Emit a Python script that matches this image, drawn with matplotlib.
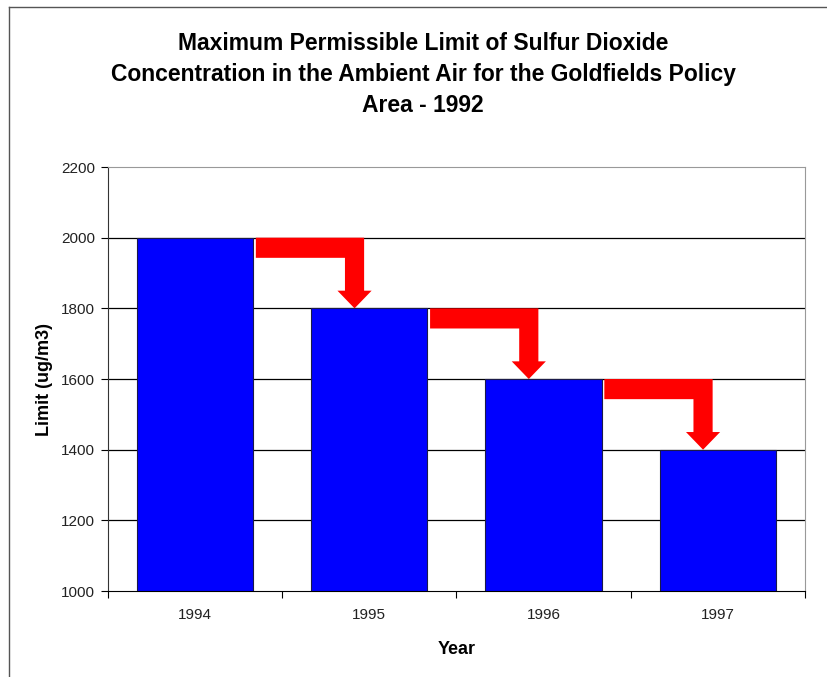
import matplotlib.pyplot as plt
from matplotlib.patches import Polygon
from matplotlib.lines import Line2D
import numpy as np

plt.rcParams["font.family"] = ["Liberation Sans", "DejaVu Sans"]

years = ["1994", "1995", "1996", "1997"]
limits = [2000, 1800, 1600, 1400]
y_ticks = [1000, 1200, 1400, 1600, 1800, 2000, 2200]

title = ("Maximum Permissible Limit of Sulfur Dioxide\n"
         "Concentration in the Ambient Air for the Goldfields Policy\n"
         "Area - 1992")

bar_width = 0.667

fig = plt.figure(figsize=(8.28, 6.77), dpi=100)
ax = fig.add_axes([0.1304, 0.1270, 0.8418, 0.6263])

x = np.arange(len(years))
ax.bar(x, limits, width=bar_width, color="#0000ff", edgecolor="#1a1a4a",
       linewidth=0.8, zorder=2)

ax.set_xlim(-0.5, len(years) - 0.5)
ax.set_ylim(y_ticks[0], y_ticks[-1])
ax.set_yticks(y_ticks)
ax.set_yticklabels([str(t) for t in y_ticks], fontsize=11, color="#222222")
ax.tick_params(axis="y", direction="out", length=5, width=0.8, pad=4.5)

# category labels centred, ticks on the category boundaries
ax.set_xticks(x)
ax.set_xticklabels(years, fontsize=11, color="#222222")
ax.tick_params(axis="x", length=0, pad=12)
ax.set_xticks(np.arange(len(years) + 1) - 0.5, minor=True)
ax.tick_params(axis="x", which="minor", direction="out", length=5, width=0.8)

for t in y_ticks[1:-1]:
    ax.axhline(t, color="black", linewidth=0.9, zorder=1)

ax.spines["left"].set_color("#333333")
ax.spines["bottom"].set_color("black")
ax.spines["top"].set_color("#999999")
ax.spines["right"].set_color("#999999")

# bent arrows stepping down from one bar to the next
thick = 57
shaft = 0.11
head_half = 0.098
head_len = 50
for i in range(len(limits) - 1):
    top = limits[i]
    nxt = limits[i + 1]
    x0 = i + bar_width / 2 + 0.015
    xr = i + 0.97
    xl = xr - shaft
    tip = xr - shaft / 2
    pts = [
        (x0, top), (xr, top), (xr, nxt + head_len),
        (tip + head_half, nxt + head_len), (tip, nxt),
        (tip - head_half, nxt + head_len), (xl, nxt + head_len),
        (xl, top - thick), (x0, top - thick),
    ]
    ax.add_patch(Polygon(pts, closed=True, facecolor="#ff0000",
                         edgecolor="none", zorder=3))

ax.set_xlabel("Year", fontsize=13, fontweight="bold", labelpad=14)
ax.set_ylabel("Limit (ug/m3)", fontsize=13, fontweight="bold", labelpad=5.5)

fig.text(0.511, 0.953, title, ha="center", va="top", fontsize=16.5,
         fontweight="bold", linespacing=1.46)

# outer chart frame (left and top edges visible)
fig.add_artist(Line2D([9 / 828, 9 / 828], [0, 1 - 7 / 677],
                      transform=fig.transFigure, color="#555555", linewidth=1))
fig.add_artist(Line2D([9 / 828, 1], [1 - 7 / 677, 1 - 7 / 677],
                      transform=fig.transFigure, color="#555555", linewidth=1))

fig.savefig("out.png", dpi=100)
